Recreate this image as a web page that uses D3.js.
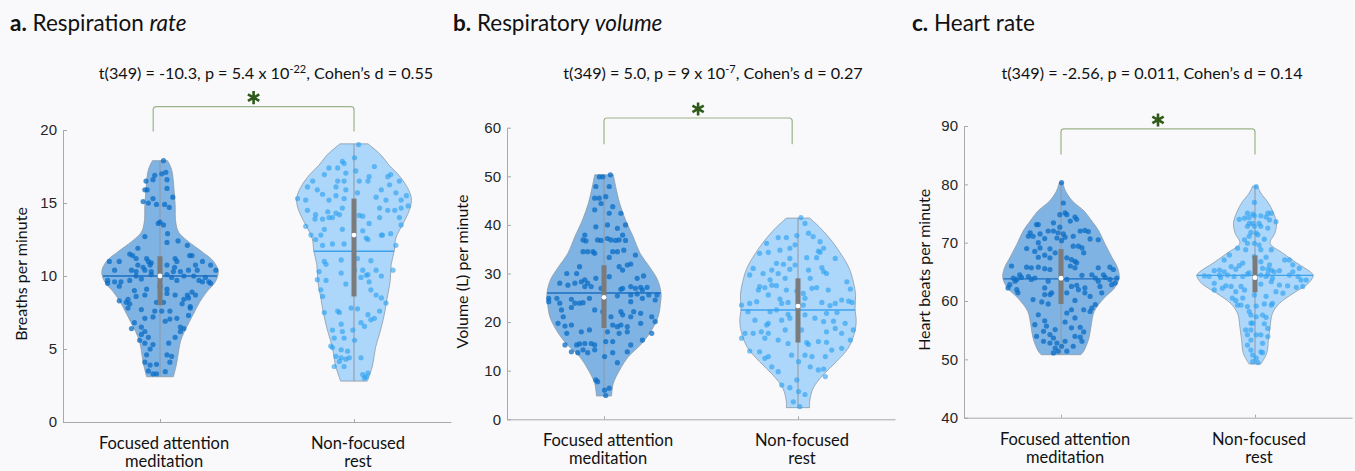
<!DOCTYPE html>
<html>
<head>
<meta charset="utf-8">
<script src="https://cdn.jsdelivr.net/npm/d3@7"></script>
<style>
  body { margin: 0; background: #f9f9fb; }
  svg { display: block; }
</style>
</head>
<body>
<svg id="chart" width="1355" height="471"></svg>
<script>
const categories = [['Focused attention', 'meditation'], ['Non-focused', 'rest']];

// tick values per panel
const rateTicks = [0, 5, 10, 15, 20];
const volumeTicks = [0, 10, 20, 30, 40, 50, 60];
const heartTicks = [40, 50, 60, 70, 80, 90];

// points are [value, jitter] -- jitter is the sideways offset as a share of the violin's widest half
const rateFocused = [[17.9,.06],[17.0,.03],[17.1,.10],[16.9,-.09],[16.6,.12],[16.5,-.24],[16.6,-.12],[15.9,-.26],[15.9,-.22],[16.0,.12],[15.1,-.29],[15.0,-.20],[15.3,-.12],[14.9,-.06],[14.9,.08],[15.4,.22],[14.7,.16],[13.7,0],[13.6,-.03],[13.5,.06],[12.9,.13],[12.7,-.26],[12.3,.12],[12.4,.31],[11.9,-.38],[12.1,.47],[11.4,.51],[11.4,.55],[11.5,-.52],[11.4,-.47],[11.2,-.41],[11.2,-.23],[11.0,-.20],[10.9,-.15],[11.2,.26],[11.0,.29],[11.0,-.87],[11.0,-.70],[10.75,-.38],[10.6,-.29],[10.75,-.17],[10.75,.12],[10.6,.25],[10.75,.61],[11.0,.73],[10.75,.87],[10.4,-.78],[10.4,-.49],[10.3,-.41],[10.4,-.26],[10.3,-.15],[10.3,.23],[10.3,.35],[10.4,.49],[10.4,.64],[10.4,.96],[9.7,-.90],[9.6,-.78],[9.6,-.67],[9.7,-.52],[10.0,-.41],[9.8,-.32],[10.1,-.15],[10.1,.12],[9.9,.20],[9.7,.29],[10.0,.41],[10.0,.58],[9.7,.67],[9.9,.78],[9.6,.84],[9.5,-.90],[9.5,.87],[9.3,-.70],[9.0,-.44],[9.1,-.23],[9.3,0],[9.1,.12],[8.9,.55],[9.6,.73],[8.3,-.70],[8.4,-.55],[8.6,-.41],[8.7,-.26],[8.8,.12],[8.7,.26],[8.7,.47],[8.5,.49],[8.7,.61],[8.4,.41],[8.2,-.58],[8.1,-.52],[8.2,-.06],[8.2,.06],[8.1,.38],[7.9,.52],[7.6,-.09],[7.6,.03],[7.6,.17],[7.8,.52],[7.8,-.55],[7.7,-.32],[7.2,-.12],[7.1,-.26],[7.05,.17],[7.1,.29],[7.3,.49],[6.9,.09],[6.8,-.44],[6.5,-.32],[6.5,.35],[6.4,.41],[6.2,-.26],[6.4,-.49],[6.0,-.32],[5.8,-.20],[5.8,.26],[6.2,.35],[5.6,-.35],[5.4,-.26],[5.3,-.12],[5.4,.15],[5.0,-.17],[4.6,-.23],[4.6,.12],[4.5,.20],[4.1,-.26],[4.1,.17],[3.9,-.17],[3.95,-.06],[3.5,-.20],[3.45,.09],[3.3,-.06],[3.3,-.12]];
const rateRest = [[19.0,.08],[18.1,.01],[17.85,-.20],[17.7,-.17],[17.4,-.43],[17.4,-.28],[17.5,.35],[17.05,-.14],[17.2,.03],[16.95,-.51],[16.8,.26],[16.8,.58],[16.95,.63],[16.5,-.71],[16.5,-.28],[16.5,-.17],[16.5,.09],[16.5,.24],[16.5,.78],[16.1,-.80],[15.9,-.63],[16.1,-.31],[15.9,-.14],[15.9,.47],[16.25,.61],[15.7,.72],[15.3,-.97],[15.2,-.83],[15.6,-.54],[15.2,-.43],[15.5,-.31],[15.3,-.17],[15.7,.06],[15.4,.38],[15.2,.55],[15.2,.81],[15.5,.90],[14.5,-.80],[14.2,-.66],[14.4,-.45],[14.3,-.31],[14.65,-.20],[14.65,.44],[14.5,.58],[14.5,.70],[14.65,.81],[14.8,.93],[13.9,-.67],[13.9,-.54],[14.0,-.43],[14.0,-.37],[14.2,-.25],[14.15,.09],[14.1,.15],[14.0,.44],[14.0,.78],[13.5,.81],[13.4,-.83],[13.2,-.51],[13.2,-.20],[13.1,.15],[13.6,.26],[12.8,.47],[12.8,.49],[12.9,.63],[12.8,-.74],[12.8,-.57],[12.6,.21],[12.5,.24],[12.5,-.66],[12.1,-.54],[12.2,-.17],[12.2,-.37],[12.1,.72],[11.0,-.51],[10.8,-.48],[11.1,-.22],[11.2,.06],[11.05,.29],[10.3,-.60],[10.2,-.22],[10.4,.01],[10.4,.15],[10.05,.21],[10.1,.24],[10.4,.38],[10.0,.47],[10.4,.67],[9.75,-.63],[9.7,-.48],[9.45,-.14],[9.9,.12],[9.6,.26],[9.05,.29],[9.05,-.57],[8.6,-.54],[8.7,.38],[8.5,.47],[8.15,.55],[7.8,-.05],[7.75,.06],[7.6,-.28],[7.5,-.25],[7.35,.24],[7.1,.35],[7.6,.44],[7.5,-.51],[6.7,-.22],[6.3,-.37],[6.2,-.20],[6.3,-.02],[6.8,.12],[6.55,.18],[7.0,.29],[5.75,-.34],[5.75,-.17],[5.6,.01],[5.2,-.40],[5.1,-.37],[4.95,-.22],[4.85,-.11],[4.5,-.31],[4.4,-.22],[4.3,-.14],[4.4,-.08],[4.4,.12],[4.15,-.25],[3.8,-.17],[3.8,-.34],[3.25,.15],[3.0,.18],[3.1,.21],[3.35,.24]];

const volumeFocused = [[50.3,.11],[49.9,-.08],[49.9,-.02],[47.9,-.14],[47.9,.09],[45.5,-.16],[45.5,-.08],[44.4,-.05],[45.8,.03],[43.75,.15],[43.1,-.16],[42.4,.09],[42.4,.29],[39.6,-.14],[40.0,.06],[39.3,.23],[40.0,.37],[37.9,-.33],[37.9,.32],[36.9,-.36],[36.7,-.31],[36.9,-.11],[36.8,-.05],[37.2,.06],[36.9,.12],[36.8,.20],[36.9,.26],[36.8,.37],[34.5,-.36],[34.5,-.28],[34.5,-.19],[34.15,-.16],[34.5,.15],[34.5,.23],[34.8,.34],[33.3,.09],[33.8,.54],[31.4,-.42],[31.4,.26],[30.7,.32],[31.75,.40],[31.95,.46],[30.0,-.47],[30.0,-.64],[29.35,.09],[29.0,.57],[29.5,.68],[28.0,-.50],[28.3,-.39],[28.7,-.33],[28.0,-.28],[29.0,-.14],[28.0,-.76],[27.6,-.62],[27.3,-.33],[27.3,-.22],[26.95,-.05],[26.95,.32],[26.75,.29],[27.3,.46],[26.95,.54],[27.15,.63],[27.15,.74],[26.6,.66],[25.6,.77],[25.6,.91],[24.9,-.95],[24.9,-.81],[24.7,-.56],[24.9,-.25],[25.4,.23],[25.6,.46],[25.8,.57],[24.9,.66],[24.55,.88],[23.9,-.76],[23.9,-.50],[23.9,-.42],[24.0,-.36],[24.2,.46],[24.2,-.95],[22.5,-.73],[23.0,-.56],[22.5,-.16],[22.15,-.02],[22.15,.29],[22.15,.51],[21.8,.63],[21.1,-.70],[21.1,.12],[21.5,.32],[21.1,.46],[21.1,.82],[19.75,-.79],[19.2,-.67],[19.4,-.56],[19.4,.15],[19.05,.23],[19.4,.29],[19.05,.40],[19.75,.63],[20.1,.88],[17.7,-.64],[18.0,-.39],[18.4,-.25],[18.0,.06],[17.7,.26],[18.0,.40],[17.7,.82],[16.3,.66],[15.3,-.67],[15.3,-.47],[15.5,-.42],[15.6,-.33],[15.6,-.22],[15.3,-.16],[16.0,.03],[16.0,.15],[15.3,.46],[13.9,-.56],[13.7,-.45],[14.3,-.36],[13.7,-.28],[14.3,-.16],[13.7,.15],[13.9,.40],[12.9,.01],[11.65,.23],[8.1,-.14],[7.75,-.11],[6.0,.01],[4.9,.03],[6.4,.09]];
const volumeRest = [[41.5,.05],[40.3,.12],[37.8,-.02],[38.3,.18],[37.4,-.34],[37.4,-.20],[37.6,.26],[36.2,-.54],[35.9,-.05],[36.55,.38],[34.8,-.31],[35.2,-.14],[34.6,.35],[35.2,.44],[34.15,-.66],[34.35,-.51],[33.1,-.14],[33.25,.15],[33.25,.32],[34.35,.38],[33.1,.64],[32.1,-.37],[31.9,-.25],[31.75,-.05],[31.2,.41],[31.05,-.77],[30.7,-.45],[30.7,.18],[30.4,.44],[30.0,.49],[30.85,-.14],[29.7,-.83],[30.0,-.60],[30.0,-.34],[28.7,-.48],[29.0,-.22],[29.0,.21],[27.3,-.66],[27.6,-.45],[27.1,-.57],[27.5,-.37],[26.95,.24],[27.1,.32],[28.3,.84],[26.8,.90],[26.6,-.68],[26.6,-.20],[26.4,-.02],[25.9,.09],[26.6,.52],[25.6,-.51],[24.75,-.31],[24.9,.12],[23.85,-.83],[24.2,-.71],[23.85,-.28],[24.05,-.17],[23.5,.09],[24.05,.41],[23.4,.55],[23.85,.64],[24.55,.75],[24.3,.87],[24.05,.93],[23.5,-.97],[22.15,-.86],[22.15,-.48],[22.5,-.37],[21.6,-.17],[21.5,.12],[21.8,.49],[21.95,.67],[20.4,-.74],[19.75,-.51],[19.4,-.54],[20.4,-.28],[20.8,-.14],[20.8,.29],[20.1,.44],[20.2,.61],[19.75,.81],[17.7,-.91],[17.7,-.77],[18.0,-.63],[17.7,-.51],[18.4,-.22],[18.4,.06],[18.0,.49],[18.7,.64],[17.7,.75],[18.4,.95],[16.7,-.97],[16.7,-.57],[16.3,-.34],[15.6,-.17],[15.8,.15],[15.4,.18],[16.0,.35],[15.85,.49],[16.3,.90],[14.05,-.83],[13.9,-.66],[12.9,-.51],[12.55,-.57],[13.2,-.11],[13.2,.12],[12.9,.24],[12.9,.47],[14.25,.58],[14.6,.75],[10.8,-.45],[11.85,.01],[10.8,.21],[10.15,.35],[10.35,.44],[9.8,-.34],[8.8,.47],[7.05,-.28],[8.1,-.02],[6.5,-.14],[5.7,.01],[5.1,.12],[3.6,-.08],[2.6,.03]];

const heartFocused = [[80.3,.01],[76.8,.04],[75.1,.07],[74.8,-.02],[74.8,.10],[74.4,.24],[74.0,.27],[73.1,-.42],[73.1,-.39],[73.4,-.13],[72.65,-.02],[73.7,.16],[71.7,-.05],[71.5,.04],[71.7,-.53],[71.1,-.48],[71.5,-.36],[72.0,-.22],[72.0,-.13],[72.0,.33],[72.1,.41],[71.9,.47],[71.1,-.56],[70.7,-.28],[70.8,-.07],[70.95,.07],[71.1,.21],[70.65,.50],[70.5,.64],[70.0,-.39],[70.35,.01],[69.0,-.59],[69.1,-.36],[68.95,-.19],[69.4,.21],[69.4,.30],[69.1,.36],[68.5,-.45],[67.85,-.28],[68.25,-.10],[68.25,.39],[67.5,-.39],[67.4,-.19],[67.4,.10],[67.1,.18],[66.8,.24],[66.55,.27],[66.0,.16],[66.0,-.85],[65.8,-.59],[65.7,-.51],[65.8,-.39],[65.55,-.28],[65.4,-.19],[65.7,.24],[65.7,.64],[65.8,.84],[65.4,.90],[64.5,-.71],[64.05,-.68],[64.2,-.56],[63.95,-.82],[63.4,-.79],[63.7,-.76],[63.7,-.51],[63.95,-.45],[63.4,-.22],[64.5,.53],[63.95,.59],[64.5,.73],[64.05,.76],[64.4,.36],[63.7,.10],[63.4,.64],[63.7,.84],[63.95,.96],[62.25,-.91],[61.95,-.76],[61.4,-.74],[62.8,-.88],[62.25,-.28],[61.4,-.16],[62.5,.18],[62.7,.27],[61.95,.30],[62.25,.41],[62.5,.67],[61.4,.70],[62.8,.87],[63.1,.93],[61.1,-.28],[61.1,-.19],[61.4,.10],[61.4,.41],[60.8,.50],[60.25,-.48],[59.85,-.33],[59.5,-.22],[60.1,.24],[59.4,.59],[58.8,.53],[58.5,.39],[58.5,.18],[57.95,.10],[57.1,.24],[58.2,.50],[57.65,-.39],[56.6,-.28],[55.95,-.45],[55.7,-.25],[56.4,.07],[55.4,.18],[55.5,.33],[54.7,.39],[54.8,-.30],[55.1,-.10],[54.25,-.19],[53.95,-.42],[53.95,.24],[53.8,.33],[53.1,.36],[53.65,-.13],[53.1,-.30],[52.8,-.19],[52.8,-.07],[53.1,.07],[52.25,.01],[51.95,-.10],[51.4,-.05],[51.4,.10],[52.25,.21],[51.1,-.13]];
const heartRest = [[79.6,.02],[76.9,-.01],[75.05,.22],[75.05,.28],[75.05,-.13],[74.9,-.04],[74.6,-.01],[74.0,-.27],[74.2,-.18],[74.3,-.10],[74.6,.10],[74.4,.19],[73.9,.25],[73.6,.36],[73.3,-.10],[73.3,-.04],[72.8,-.13],[72.8,-.01],[73.3,.07],[72.8,.10],[72.5,.22],[71.75,-.07],[71.65,.02],[71.35,.05],[71.1,-.10],[70.5,-.18],[70.6,.16],[69.9,-.13],[69.6,.07],[69.9,-.01],[69.05,-.30],[68.8,-.16],[68.8,.10],[68.8,.28],[67.9,-.44],[67.5,.19],[67.05,.51],[67.05,.59],[66.2,.65],[67.6,-.01],[67.05,-.53],[65.9,-.41],[66.05,-.27],[66.5,-.21],[66.75,.10],[66.2,.25],[65.6,.13],[65.45,.22],[65.3,.28],[65.2,-.70],[65.3,-.61],[65.0,-.53],[65.45,-.33],[64.85,-.10],[65.0,.33],[65.2,.42],[65.6,.76],[65.0,.65],[64.3,-.87],[64.2,-.79],[64.45,-.61],[64.05,-.59],[64.45,-.47],[64.2,-.36],[64.2,-.21],[64.6,-.13],[64.45,.10],[64.2,.19],[64.6,.22],[63.9,.30],[64.45,.59],[64.2,.74],[63.6,.79],[63.6,.88],[63.05,-.70],[62.6,-.50],[62.5,-.41],[62.5,-.24],[62.9,.10],[63.3,.28],[62.75,.42],[62.6,.56],[62.35,.71],[62.5,.82],[61.9,-.70],[62.2,-.56],[61.6,-.33],[61.9,-.18],[61.05,-.01],[61.6,.36],[61.35,.48],[60.5,-.39],[60.1,-.33],[60.5,-.21],[60.8,.19],[59.6,.30],[59.3,-.30],[59.3,-.24],[59.05,-.13],[59.15,.02],[59.5,.16],[59.3,.28],[58.2,-.10],[57.6,-.07],[57.3,.02],[57.6,.13],[57.2,.19],[56.2,-.07],[56.2,-.04],[56.1,.16],[55.3,.22],[55.05,-.16],[55.05,-.07],[54.2,-.13],[54.2,.02],[54.2,.10],[53.3,-.07],[53.9,.22],[52.75,.13],[52.45,-.13],[51.6,-.07],[51.3,.10],[51.15,.13],[50.75,-.04],[50.2,.02],[49.6,-.04],[49.45,.05]];

// violin outlines: [value, density relative to the widest point]
const rateFocusedShape = [[3.1,.23],[3.9,.28],[4.6,.31],[5.5,.35],[6.2,.42],[6.9,.51],[7.6,.60],[8.2,.68],[8.9,.80],[9.6,.95],[10.3,1.0],[11.0,.92],[11.7,.71],[12.35,.49],[13.0,.32],[13.7,.27],[14.9,.26],[16.0,.24],[17.1,.21],[17.5,.18],[17.9,.13]];
const rateRestShape = [[2.8,.23],[3.9,.32],[5.1,.37],[6.2,.45],[7.35,.52],[8.5,.57],[9.6,.62],[10.8,.64],[11.7,.69],[12.6,.72],[13.5,.83],[14.2,.92],[14.9,.98],[15.45,.98],[16.25,.89],[16.95,.76],[17.6,.60],[18.3,.46],[19.05,.24]];
const volumeFocusedShape = [[4.8,.13],[7.4,.16],[10.15,.27],[12.9,.42],[15.6,.65],[18.4,.82],[21.1,.93],[23.9,.97],[25.9,.98],[28.7,.92],[31.4,.78],[34.15,.62],[37.6,.50],[41.0,.37],[44.4,.27],[47.9,.20],[50.3,.16]];
const volumeRestShape = [[2.4,.20],[3.6,.20],[6.4,.26],[9.1,.43],[11.85,.66],[14.6,.86],[17.35,.96],[20.1,1.0],[22.85,.98],[25.6,.99],[28.3,.95],[31.05,.88],[33.8,.75],[36.55,.59],[39.3,.39],[41.4,.20]];
const heartFocusedShape = [[50.8,.34],[51.4,.39],[53.65,.48],[55.95,.52],[58.2,.57],[60.5,.74],[62.25,.92],[64.0,1.0],[65.7,.97],[67.4,.88],[69.7,.76],[72.0,.65],[73.7,.53],[75.4,.40],[77.1,.20],[78.8,.08],[80.3,.03]];
const heartRestShape = [[49.2,.10],[51.0,.20],[53.3,.23],[55.6,.26],[57.9,.30],[59.6,.42],[61.35,.66],[63.05,.92],[64.4,1.0],[65.0,.95],[66.5,.72],[68.2,.48],[69.9,.26],[71.6,.34],[73.3,.37],[75.05,.32],[76.8,.23],[78.5,.10],[79.7,.04]];

// summary per group: [mean, q1, median, q3]
const rateSummary = [[10.0, 8.0, 10.0, 11.35], [11.7, 8.6, 12.8, 15.3]];
const volumeSummary = [[26.0, 18.8, 25.1, 31.7], [22.5, 15.8, 23.3, 29.0]];
const heartSummary = [[63.8, 59.5, 63.9, 68.9], [64.4, 61.5, 64.0, 67.8]];

// statistics text
const rateStat = ['t(349) = -10.3, p = 5.4 x 10', '-22', ', Cohen\u2019s d = 0.55'];
const volumeStat = ['t(349) = 5.0, p = 9 x 10', '-7', ', Cohen\u2019s d = 0.27'];
const heartStat = ['t(349) = -2.56, p = 0.011, Cohen\u2019s d = 0.14', '', ''];

const panels = [
  {
    title: [['a.', 'bold', 'normal'], [' Respiration ', 'normal', 'normal'], ['rate', 'normal', 'italic']],
    ylabel: 'Breaths per minute', ticks: rateTicks, stat: rateStat,
    groups: [rateFocused, rateRest], shapes: [rateFocusedShape, rateRestShape], summary: rateSummary,
    left: 63, top: 130, bottom: 422, titleX: 10, statX: 266, labelX: 20,
    bracket: { x1: 0.965, x2: 2.0, top: 21.6, foot: 19.9 }
  },
  {
    title: [['b.', 'bold', 'normal'], [' Respiratory ', 'normal', 'normal'], ['volume', 'normal', 'italic']],
    ylabel: 'Volume (L) per minute', ticks: volumeTicks, stat: volumeStat,
    groups: [volumeFocused, volumeRest], shapes: [volumeFocusedShape, volumeRestShape], summary: volumeSummary,
    left: 507, top: 127.7, bottom: 419.3, titleX: 453, statX: 713, labelX: 461,
    bracket: { x1: 1.0, x2: 1.97, top: 62.0, foot: 56.6 }
  },
  {
    title: [['c.', 'bold', 'normal'], [' Heart rate', 'normal', 'normal']],
    ylabel: 'Heart beats per minute', ticks: heartTicks, stat: heartStat,
    groups: [heartFocused, heartRest], shapes: [heartFocusedShape, heartRestShape], summary: heartSummary,
    left: 964, top: 126, bottom: 417.7, titleX: 912, statX: 1152, labelX: 923,
    bracket: { x1: 1.0, x2: 2.0, top: 89.5, foot: 85.1 }
  }
];

const plotWidth = 388;
const textFont = 'Lato, "Open Sans", sans-serif';
const tickFont = '"Liberation Sans", Arial, sans-serif';
const axisColor = '#a9a9a9';
const violinFill = ['#7fb3e4', '#acd6fa'];
const dotFill = ['#0a6cc4', '#2a9ff0'];
const dotOpacity = [0.75, 0.62];
const meanColor = ['#1b6ec2', '#3fa3ec'];

const svg = d3.select('#chart');
svg.append('rect').attr('width', 1355).attr('height', 471).attr('fill', '#f9f9fb');

panels.forEach(p => {
  const g = svg.append('g');
  const x = d3.scaleLinear().domain([0.5, 2.5]).range([p.left, p.left + plotWidth]);
  const y = d3.scaleLinear().domain(d3.extent(p.ticks)).range([p.bottom, p.top]);
  const halfWidth = (x(2) - x(1)) * 0.3;

  // title
  const title = g.append('text')
    .attr('x', p.titleX).attr('y', 31)
    .attr('font-family', textFont).attr('font-size', 22.5).attr('fill', '#111');
  p.title.forEach(([t, weight, style]) => {
    title.append('tspan').attr('font-weight', weight).attr('font-style', style).text(t);
  });

  // stats line
  const stat = g.append('text')
    .attr('x', p.statX).attr('y', 79)
    .attr('text-anchor', 'middle')
    .attr('font-family', textFont).attr('font-size', 16.2).attr('fill', '#111');
  stat.append('tspan').text(p.stat[0]);
  if (p.stat[1]) {
    stat.append('tspan').attr('font-size', 11).attr('dy', -6).text(p.stat[1]);
    stat.append('tspan').attr('dy', 6).text(p.stat[2]);
  }

  // axes
  const yAxis = g.append('g')
    .attr('transform', `translate(${p.left},0)`)
    .call(d3.axisLeft(y).tickValues(p.ticks).tickSizeInner(-4).tickSizeOuter(0).tickPadding(6));
  const xAxis = g.append('g')
    .attr('transform', `translate(0,${p.bottom})`)
    .call(d3.axisBottom(x).tickValues([1, 2]).tickSizeInner(-3).tickSizeOuter(0).tickFormat(''));
  [yAxis, xAxis].forEach(a => {
    a.selectAll('path, line').attr('stroke', axisColor);
    a.selectAll('text').attr('font-family', tickFont).attr('font-size', 15).attr('fill', '#262626');
  });

  // y label
  g.append('text')
    .attr('transform', `translate(${p.labelX},${(p.top + p.bottom) / 2 - 2}) rotate(-90)`)
    .attr('text-anchor', 'middle').attr('dominant-baseline', 'central')
    .attr('font-family', textFont).attr('font-size', 16).attr('fill', '#111')
    .text(p.ylabel);

  // category labels (second line sits close to the bottom edge, as in the source)
  categories.forEach((lines, i) => {
    const t = g.append('text')
      .attr('x', x(i + 1) + 4).attr('y', p.bottom + 27)
      .attr('text-anchor', 'middle')
      .attr('font-family', textFont).attr('font-size', 16.5).attr('fill', '#111');
    lines.forEach((line, j) => {
      t.append('tspan').attr('x', x(i + 1) + 4).attr('dy', j ? 18 : 0).text(line);
    });
  });

  // violins
  p.groups.forEach((pts, i) => {
    const cx = x(i + 1);
    const shape = p.shapes[i];
    const density = d3.scaleLinear().domain(shape.map(d => d[0])).range(shape.map(d => d[1])).clamp(true);
    const [mean, q1, median, q3] = p.summary[i];
    const [lo, hi] = d3.extent(shape, d => d[0]);

    const area = d3.area()
      .curve(d3.curveCatmullRom)
      .y(d => y(d[0]))
      .x0(d => cx - d[1] * halfWidth)
      .x1(d => cx + d[1] * halfWidth);

    g.append('path')
      .attr('d', area(shape))
      .attr('fill', violinFill[i])
      .attr('stroke', '#8e9aa6').attr('stroke-width', 0.8);

    g.append('line')
      .attr('x1', cx).attr('x2', cx).attr('y1', y(lo)).attr('y2', y(hi))
      .attr('stroke', '#9098a2').attr('stroke-width', 1);

    g.append('g').selectAll('circle').data(pts).join('circle')
      .attr('cx', d => cx + d[1] * halfWidth)
      .attr('cy', d => y(d[0]))
      .attr('r', 2.6)
      .attr('fill', dotFill[i])
      .attr('fill-opacity', dotOpacity[i]);

    const mw = density(mean) * halfWidth;
    g.append('line')
      .attr('x1', cx - mw).attr('x2', cx + mw).attr('y1', y(mean)).attr('y2', y(mean))
      .attr('stroke', meanColor[i]).attr('stroke-width', 1.4);

    g.append('rect')
      .attr('x', cx - 2.5).attr('width', 5)
      .attr('y', y(q3)).attr('height', y(q1) - y(q3))
      .attr('fill', '#7b7b7b');

    g.append('circle')
      .attr('cx', cx).attr('cy', y(median)).attr('r', 2.4)
      .attr('fill', '#fff');
  });

  // significance bracket
  const b = p.bracket;
  const bx1 = x(b.x1), bx2 = x(b.x2), by = y(b.top), bf = y(b.foot), r = 3;
  g.append('path')
    .attr('d', `M${bx1},${bf} L${bx1},${by + r} Q${bx1},${by} ${bx1 + r},${by} L${bx2 - r},${by} Q${bx2},${by} ${bx2},${by + r} L${bx2},${bf}`)
    .attr('fill', 'none').attr('stroke', '#9cb487').attr('stroke-width', 1.2);
  g.append('path')
    .attr('transform', `translate(${(bx1 + bx2) / 2},${by - 9})`)
    .attr('d', d3.symbol(d3.symbolAsterisk, 120)())
    .attr('fill', 'none').attr('stroke', '#2f5a1a').attr('stroke-width', 2.6);
});
</script>
</body>
</html>
